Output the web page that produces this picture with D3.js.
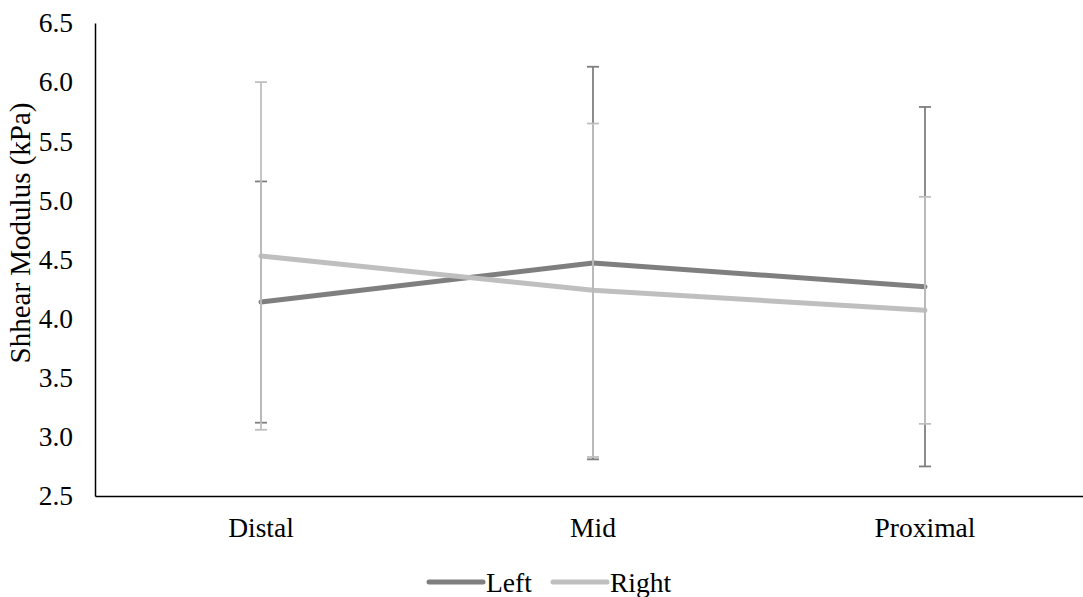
<!DOCTYPE html>
<html>
<head>
<meta charset="utf-8">
<script src="https://cdn.jsdelivr.net/npm/d3@7"></script>
<style>
    body { margin: 0; background: #fff; }
    svg text { font-family: "Liberation Serif", "Times New Roman", serif; fill: #000; }
</style>
</head>
<body>
<div id="chart"></div>
<script>
// Chart data.
const categories = ["Distal", "Mid", "Proximal"];
const leftMean = [4.14, 4.47, 4.27];
const leftSd = [1.02, 1.66, 1.52];
const rightMean = [4.53, 4.24, 4.07];
const rightSd = [1.47, 1.41, 0.96];
const yTicks = [2.5, 3.0, 3.5, 4.0, 4.5, 5.0, 5.5, 6.0, 6.5];

const series = [
    { name: "Left", mean: leftMean, sd: leftSd, color: "#7f7f7f" },
    { name: "Right", mean: rightMean, sd: rightSd, color: "#bfbfbf" }
];

let width = 1083;
let height = 597;
let fontSize = 27.5;
let serif = "'Liberation Serif', 'Times New Roman', serif";

let svg = d3.select("#chart").append("svg")
    .attr("width", width)
    .attr("height", height)
    .attr("font-family", serif);

// Plot area runs off the right edge, as in the reference.
let x = d3.scaleBand().domain(categories).range([95, 1091]);
let y = d3.scaleLinear().domain([2.5, 6.5]).range([496, 23]);

function cx(c) {
    return x(c) + x.bandwidth() / 2;
}

// Y axis: line plus labels, no tick marks.
let yAxis = svg.append("g")
    .attr("transform", "translate(95,0)")
    .call(d3.axisLeft(y).tickValues(yTicks).tickSize(0).tickPadding(22)
        .tickFormat(d3.format(".1f")));
yAxis.attr("font-family", serif).attr("font-size", fontSize);
yAxis.select(".domain").attr("stroke", "#000").attr("stroke-width", 1.5);

// X axis
let xAxis = svg.append("g")
    .attr("transform", "translate(0,496)")
    .call(d3.axisBottom(x).tickSize(0).tickPadding(21));
xAxis.attr("font-family", serif).attr("font-size", fontSize);
xAxis.select(".domain").attr("stroke", "#000").attr("stroke-width", 1.5);

// Axis title
svg.append("text")
    .attr("transform", "translate(30,233) rotate(-90)")
    .attr("text-anchor", "middle")
    .attr("font-size", 29)
    .text("Shhear Modulus (kPa)");

// Mean lines
let line = d3.line()
    .x((d, i) => cx(categories[i]))
    .y(d => y(d));

series.forEach(function(s) {
    svg.append("path")
        .datum(s.mean)
        .attr("fill", "none")
        .attr("stroke", s.color)
        .attr("stroke-width", 5)
        .attr("stroke-linecap", "round")
        .attr("stroke-linejoin", "round")
        .attr("d", line);
});

// Error bars drawn on top of the lines.
series.forEach(function(s) {
    let g = svg.append("g").attr("stroke", s.color).attr("stroke-width", 1.8);
    categories.forEach(function(c, i) {
        let hi = y(s.mean[i] + s.sd[i]);
        let lo = y(s.mean[i] - s.sd[i]);
        let px = cx(c);
        g.append("line").attr("x1", px).attr("x2", px).attr("y1", hi).attr("y2", lo);
        g.append("line").attr("x1", px - 6).attr("x2", px + 6).attr("y1", hi).attr("y2", hi);
        g.append("line").attr("x1", px - 6).attr("x2", px + 6).attr("y1", lo).attr("y2", lo);
    });
});

// Legend
let legendX = [429, 553];
series.forEach(function(s, i) {
    let g = svg.append("g").attr("transform", "translate(" + legendX[i] + ",582)");
    g.append("line")
        .attr("x1", 0).attr("x2", 54)
        .attr("stroke", s.color)
        .attr("stroke-width", 5)
        .attr("stroke-linecap", "round");
    g.append("text")
        .attr("x", 57)
        .attr("dy", "0.35em")
        .attr("font-size", fontSize)
        .text(s.name);
});
</script>
</body>
</html>
